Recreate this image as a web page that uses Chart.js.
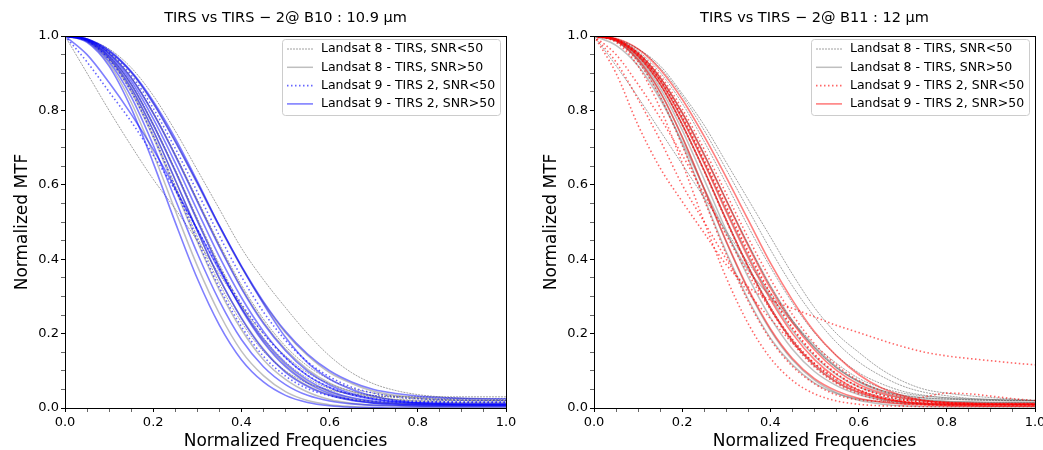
<!DOCTYPE html>
<html lang="en">
<head>
<meta charset="UTF-8">
<title>TIRS vs TIRS-2 MTF</title>
<script src="https://cdn.jsdelivr.net/npm/chart.js@4.4.1/dist/chart.umd.min.js"></script>
<style>
    body { margin: 0; background: #fff; }
    .painel { position: absolute; top: 0; }
</style>
</head>
<body>
<div class="painel" style="left:0px"><canvas id="graficoB10" width="520" height="450"></canvas></div>
<div class="painel" style="left:529px"><canvas id="graficoB11" width="514" height="450"></canvas></div>

<script>
// normalized frequency grid shared by every curve
const freqs = [0, 0.05, 0.1, 0.15, 0.2, 0.25, 0.3, 0.35, 0.4, 0.45, 0.5, 0.55, 0.6, 0.65, 0.7, 0.75, 0.8, 0.85, 0.9, 0.95, 1.0];
const tickLabels = ['0.0', '0.2', '0.4', '0.6', '0.8', '1.0'];

// ---- B10 : 10.9 um ----
const b10L8Low = [
    [1, .99, .965, .915, .84, .745, .64, .535, .43, .345, .27, .2, .14, .095, .065, .047, .036, .03, .026, .024, .022],
    [1, .9, .8, .705, .615, .535, .45, .36, .275, .2, .14, .095, .065, .045, .034, .028, .025, .023, .022, .021, .02],
    [1, .991, .954, .889, .795, .683, .561, .441, .331, .239, .166, .113, .077, .053, .04, .032, .028, .026, .025, .025, .025],
    [1, .989, .946, .872, .765, .641, .51, .386, .277, .189, .124, .08, .052, .036, .028, .023, .021, .02, .02, .02, .02],
    [1, .987, .938, .854, .735, .598, .461, .335, .231, .152, .1, .067, .048, .038, .033, .031, .03, .03, .03, .03, .03]
];
const b10L8High = [
    [1, .985, .925, .822, .684, .531, .382, .254, .153, .087, .044, .02, .009, .004, .001, 0, 0, 0, 0, 0, 0],
    [1, .989, .946, .87, .762, .638, .505, .379, .269, .18, .115, .07, .043, .026, .017, .013, .011, .01, .01, .01, .01],
    [1, .991, .954, .888, .793, .68, .557, .436, .324, .231, .158, .104, .067, .044, .03, .022, .018, .016, .015, .015, .015],
    [1, .992, .959, .902, .819, .716, .603, .487, .379, .283, .202, .141, .095, .066, .045, .034, .027, .023, .021, .02, .02],
    [1, .987, .936, .85, .728, .588, .447, .317, .211, .13, .077, .043, .023, .013, .008, .006, .005, .005, .005, .005, .005],
    [1, .988, .941, .861, .746, .613, .477, .347, .243, .159, .098, .06, .035, .022, .015, .012, .011, .01, .01, .01, .01]
];
const b10L9Low = [
    [1, .991, .956, .895, .806, .698, .581, .463, .353, .258, .182, .124, .084, .056, .04, .03, .025, .022, .021, .02, .02],
    [1, .93, .85, .77, .68, .585, .48, .375, .28, .2, .135, .088, .056, .036, .025, .02, .018, .017, .016, .016, .016],
    [1, .987, .937, .851, .731, .592, .452, .324, .219, .139, .086, .052, .033, .023, .018, .016, .015, .015, .015, .015, .015]
];
const b10L9High = [
    [1, .992, .962, .905, .825, .725, .61, .49, .38, .28, .19, .122, .078, .05, .032, .02, .014, .011, .01, .009, .009],
    [1, .983, .919, .806, .659, .499, .348, .223, .13, .07, .034, .015, .006, .002, .001, 0, 0, 0, 0, 0, 0],
    [1, .986, .931, .837, .707, .561, .416, .288, .184, .111, .063, .034, .019, .011, .007, .006, .005, .005, .005, .005, .005],
    [1, .988, .941, .86, .746, .613, .476, .349, .241, .156, .096, .058, .034, .02, .013, .01, .009, .008, .008, .008, .008],
    [1, .989, .945, .87, .761, .636, .503, .377, .266, .177, .111, .067, .039, .022, .013, .009, .007, .006, .006, .006, .006],
    [1, .99, .95, .879, .778, .659, .531, .407, .297, .206, .136, .087, .055, .035, .023, .017, .014, .013, .012, .012, .012],
    [1, .991, .953, .887, .792, .678, .555, .433, .321, .227, .154, .099, .062, .039, .025, .017, .013, .011, .01, .01, .01],
    [1, .992, .959, .903, .82, .717, .605, .49, .382, .286, .206, .145, .1, .07, .05, .039, .032, .028, .026, .025, .025],
    [1, .95, .875, .79, .695, .59, .48, .37, .27, .185, .12, .075, .045, .028, .018, .013, .01, .009, .008, .008, .008]
];

// ---- B11 : 12 um ----
const b11L8Low = [
    [1, .99, .965, .92, .845, .76, .66, .56, .46, .36, .27, .2, .15, .105, .072, .05, .04, .033, .028, .024, .02],
    [1, .92, .835, .745, .655, .565, .475, .39, .31, .235, .17, .12, .08, .055, .04, .032, .028, .025, .023, .022, .02],
    [1, .991, .954, .888, .794, .682, .559, .439, .328, .235, .162, .108, .072, .048, .034, .027, .024, .022, .021, .02, .02],
    [1, .992, .959, .902, .819, .716, .603, .487, .379, .283, .202, .141, .095, .066, .045, .034, .027, .023, .021, .02, .02],
    [1, .989, .946, .871, .764, .639, .508, .382, .273, .184, .119, .075, .048, .031, .022, .018, .016, .015, .015, .015, .015],
    [1, .993, .965, .914, .839, .746, .641, .533, .426, .328, .245, .176, .124, .087, .059, .042, .033, .026, .023, .021, .02]
];
const b11L8High = [
    [1, .987, .936, .849, .728, .587, .446, .316, .209, .129, .075, .041, .021, .011, .006, .004, .003, .003, .003, .003, .003],
    [1, .988, .941, .86, .747, .614, .477, .351, .243, .158, .098, .06, .036, .022, .015, .012, .011, .01, .01, .01, .01],
    [1, .989, .945, .87, .762, .637, .504, .378, .268, .179, .113, .069, .041, .024, .015, .011, .009, .008, .008, .008, .008],
    [1, .975, .92, .83, .715, .59, .47, .37, .3, .23, .165, .11, .07, .045, .03, .022, .018, .016, .015, .015, .015],
    [1, .99, .95, .88, .779, .66, .532, .409, .299, .208, .139, .09, .057, .038, .026, .02, .017, .016, .015, .015, .015],
    [1, .986, .932, .838, .709, .563, .419, .291, .188, .116, .067, .039, .024, .016, .012, .011, .01, .01, .01, .01, .01],
    [1, .991, .954, .888, .794, .682, .559, .439, .328, .235, .162, .108, .072, .048, .034, .027, .024, .022, .021, .02, .02]
];
const b11L9Low = [
    [1, .9, .76, .645, .555, .47, .385, .325, .29, .268, .245, .222, .203, .183, .165, .15, .14, .133, .127, .121, .116],
    [1, .93, .83, .72, .6, .5, .4, .31, .24, .175, .12, .08, .05, .03, .018, .012, .01, .009, .009, .008, .008],
    [1, .99, .952, .883, .785, .667, .543, .421, .31, .217, .145, .093, .058, .036, .023, .016, .013, .011, .01, .01, .01],
    [1, .99, .95, .88, .78, .662, .538, .416, .306, .214, .142, .091, .057, .035, .022, .015, .012, .01, .01, .01, .01],
    [1, .989, .945, .87, .761, .636, .503, .376, .266, .176, .11, .066, .038, .021, .012, .008, .006, .005, .005, .005, .005],
    [1, .991, .955, .894, .804, .695, .576, .457, .347, .251, .173, .115, .074, .047, .03, .02, .015, .012, .011, .01, .01],
    [1, .986, .931, .836, .706, .559, .413, .286, .184, .112, .065, .035, .022, .018, .02, .03, .04, .038, .032, .025, .02],
    [1, .983, .919, .806, .659, .5, .35, .226, .134, .074, .038, .019, .01, .006, .005, .004, .004, .004, .004, .004, .004],
    [1, .95, .87, .78, .68, .575, .465, .36, .265, .185, .12, .075, .045, .027, .017, .012, .01, .01, .01, .01, .01]
];
const b11L9High = [
    [1, .993, .965, .91, .83, .73, .62, .505, .39, .29, .205, .14, .09, .055, .033, .02, .014, .012, .01, .01, .01],
    [1, .991, .954, .888, .793, .679, .557, .435, .322, .229, .156, .101, .064, .041, .027, .019, .015, .013, .012, .012, .012],
    [1, .989, .946, .87, .762, .638, .505, .379, .269, .18, .115, .07, .043, .026, .017, .013, .011, .01, .01, .01, .01],
    [1, .987, .937, .85, .729, .589, .448, .32, .213, .133, .079, .046, .026, .016, .011, .009, .008, .008, .008, .008, .008],
    [1, .99, .949, .879, .776, .657, .527, .403, .292, .2, .13, .081, .048, .028, .016, .01, .007, .006, .005, .005, .005]
];

const fonte = "'DejaVu Sans', sans-serif";
Chart.defaults.font.family = fonte;
Chart.defaults.color = '#000';

// estilos das series (iguais ao legend)
const estiloL8Low = { color: 'rgba(70,70,70,0.85)', width: 0.6, dash: [2, 1] };
const estiloL8High = { color: 'rgba(128,128,128,0.5)', width: 1.5, dash: [] };
const estiloAzulLow = { color: 'rgba(0,0,255,0.6)', width: 1.6, dash: [1.5, 2.5] };
const estiloAzulHigh = { color: 'rgba(0,0,255,0.5)', width: 1.6, dash: [] };
const estiloVermLow = { color: 'rgba(255,0,0,0.6)', width: 1.6, dash: [1.5, 2.5] };
const estiloVermHigh = { color: 'rgba(255,0,0,0.5)', width: 1.6, dash: [] };

function montarSeries(curvas, estilo, ordem) {
    return curvas.map(function (c) {
        return {
            data: c.map(function (v, i) { return { x: freqs[i], y: v }; }),
            borderColor: estilo.color,
            borderWidth: estilo.width,
            borderDash: estilo.dash,
            borderCapStyle: 'butt',
            pointRadius: 0,
            fill: false,
            cubicInterpolationMode: 'monotone',
            order: ordem
        };
    });
}

function ehMaior(v) {
    return Math.abs(v * 5 - Math.round(v * 5)) < 1e-6;
}

function rotulo(v) {
    return ehMaior(v) ? tickLabels[Math.round(v * 5)] : '';
}

// moldura em volta da area do grafico
const moldura = {
    id: 'moldura',
    afterDraw(chart) {
        const a = chart.chartArea, ctx = chart.ctx;
        ctx.save();
        ctx.strokeStyle = '#000';
        ctx.lineWidth = 1;
        ctx.strokeRect(Math.round(a.left) + 0.5, Math.round(a.top) + 0.5,
            Math.round(a.right - a.left), Math.round(a.bottom - a.top));
        ctx.restore();
    }
};

// legenda dentro do grafico, canto superior direito
const legendaCaixa = {
    id: 'legendaCaixa',
    afterDraw(chart, args, opts) {
        const ctx = chart.ctx, a = chart.chartArea;
        ctx.save();
        ctx.font = '12.5px ' + fonte;
        let maxW = 0;
        opts.items.forEach(function (it) { maxW = Math.max(maxW, ctx.measureText(it.text).width); });
        const w = Math.round(maxW + 44), h = 76;
        const x = Math.round(a.right - 6 - w), y = Math.round(a.top + 3);
        ctx.fillStyle = 'rgba(255,255,255,0.8)';
        ctx.strokeStyle = '#cccccc';
        ctx.lineWidth = 1;
        ctx.beginPath();
        ctx.roundRect(x + 0.5, y + 0.5, w, h, 3);
        ctx.fill();
        ctx.stroke();
        opts.items.forEach(function (it, i) {
            const cy = y + 10 + i * 18.3;
            ctx.strokeStyle = it.style.color;
            ctx.lineWidth = it.style.width;
            ctx.setLineDash(it.style.dash);
            ctx.beginPath();
            ctx.moveTo(x + 5, cy);
            ctx.lineTo(x + 31, cy);
            ctx.stroke();
            ctx.setLineDash([]);
            ctx.fillStyle = '#000';
            ctx.textBaseline = 'middle';
            ctx.fillText(it.text, x + 39, cy);
        });
        ctx.restore();
    }
};

function criarGrafico(idCanvas, titulo, series, itensLegenda, padDireita) {
    const eixoComum = {
        type: 'linear',
        min: 0,
        max: 1,
        border: { display: false },
        grid: {
            drawOnChartArea: false,
            drawTicks: true,
            tickLength: 4,
            tickColor: '#000',
            tickWidth: function (c) { return c.tick && ehMaior(c.tick.value) ? 1 : 0.6; }
        }
    };
    return new Chart(document.getElementById(idCanvas), {
        type: 'line',
        data: { datasets: series },
        options: {
            responsive: false,
            animation: false,
            devicePixelRatio: 1,
            events: [],
            layout: { padding: { left: 0, right: padDireita, top: 0, bottom: 0 } },
            plugins: {
                legend: { display: false },
                tooltip: { enabled: false },
                title: {
                    display: true,
                    text: titulo,
                    fullSize: false,
                    color: '#000',
                    font: { size: 14.5, weight: 'normal' },
                    padding: { top: 9.6, bottom: 9 }
                },
                legendaCaixa: { items: itensLegenda }
            },
            scales: {
                x: Object.assign({}, eixoComum, {
                    ticks: { stepSize: 0.05, autoSkip: false, maxRotation: 0, padding: 3, font: { size: 13 }, callback: rotulo },
                    title: { display: true, text: 'Normalized Frequencies', font: { size: 17, lineHeight: 1 }, padding: { top: 0, bottom: 0 } },
                    afterFit: function (s) { s.height = 42; s.paddingLeft = 0; s.paddingRight = 0; }
                }),
                y: Object.assign({}, eixoComum, {
                    ticks: { stepSize: 0.05, autoSkip: false, padding: 2, font: { size: 13 }, callback: rotulo },
                    title: { display: true, text: 'Normalized MTF', font: { size: 17, lineHeight: 1 }, padding: { top: 14, bottom: 0 } },
                    afterFit: function (s) { s.width = 65; s.paddingTop = 0; s.paddingBottom = 0; }
                })
            }
        },
        plugins: [moldura, legendaCaixa]
    });
}

const seriesB10 = [].concat(
    montarSeries(b10L8Low, estiloL8Low, 4),
    montarSeries(b10L8High, estiloL8High, 3),
    montarSeries(b10L9Low, estiloAzulLow, 2),
    montarSeries(b10L9High, estiloAzulHigh, 1)
);
const seriesB11 = [].concat(
    montarSeries(b11L8Low, estiloL8Low, 4),
    montarSeries(b11L8High, estiloL8High, 3),
    montarSeries(b11L9Low, estiloVermLow, 2),
    montarSeries(b11L9High, estiloVermHigh, 1)
);

criarGrafico('graficoB10', 'TIRS vs TIRS \u2212 2@ B10 : 10.9 \u03bcm', seriesB10, [
    { text: 'Landsat 8 - TIRS, SNR<50', style: estiloL8Low },
    { text: 'Landsat 8 - TIRS, SNR>50', style: estiloL8High },
    { text: 'Landsat 9 - TIRS 2, SNR<50', style: estiloAzulLow },
    { text: 'Landsat 9 - TIRS 2, SNR>50', style: estiloAzulHigh }
], 14);

criarGrafico('graficoB11', 'TIRS vs TIRS \u2212 2@ B11 : 12 \u03bcm', seriesB11, [
    { text: 'Landsat 8 - TIRS, SNR<50', style: estiloL8Low },
    { text: 'Landsat 8 - TIRS, SNR>50', style: estiloL8High },
    { text: 'Landsat 9 - TIRS 2, SNR<50', style: estiloVermLow },
    { text: 'Landsat 9 - TIRS 2, SNR>50', style: estiloVermHigh }
], 8);
</script>
</body>
</html>
